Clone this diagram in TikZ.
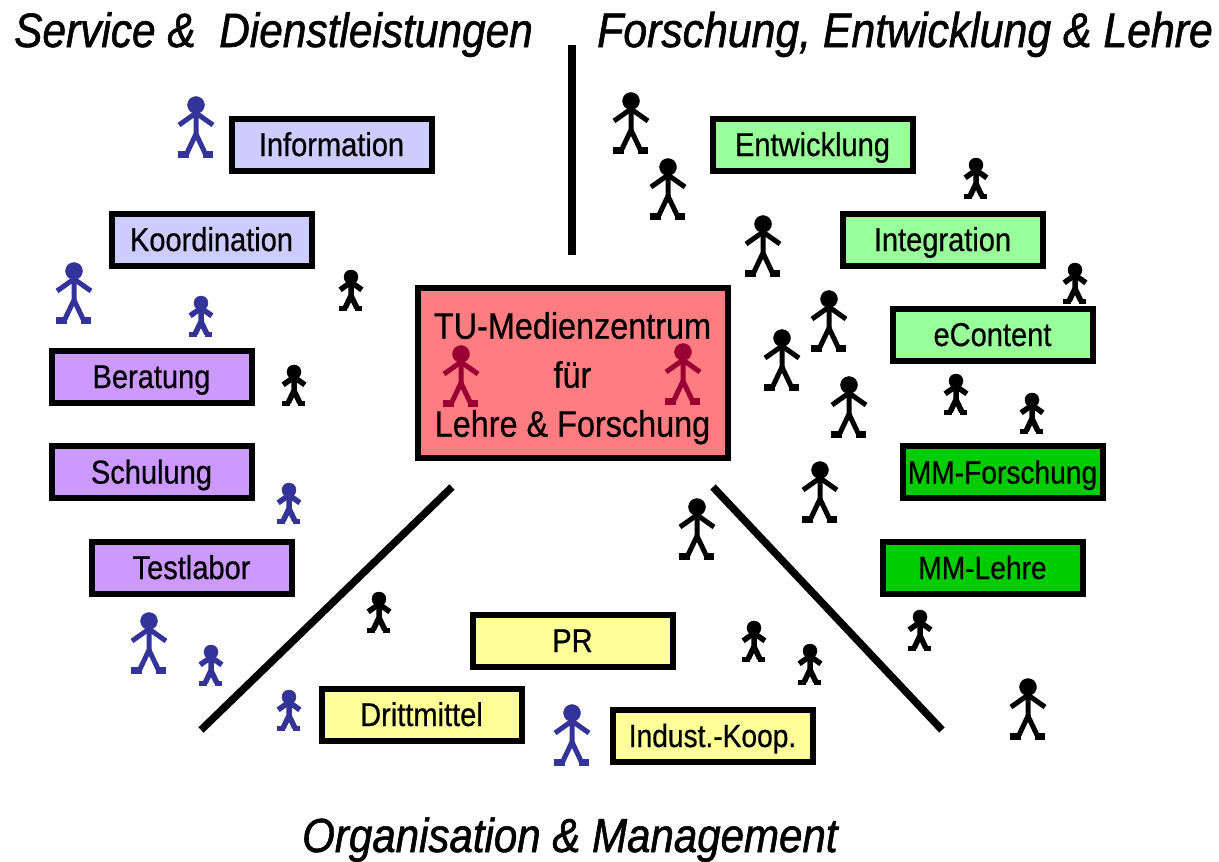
\documentclass[tikz,border=0pt]{standalone}
\usepackage{fontspec}
\setmainfont[FakeStretch=0.88,FakeBold=0.6]{Liberation Sans}
\newfontfamily\headfont[FakeStretch=0.88,FakeBold=1.2]{Liberation Sans}
\definecolor{lblue}{HTML}{CCCCFF}
\definecolor{lpurple}{HTML}{CC99FF}
\definecolor{lgreen}{HTML}{99FF99}
\definecolor{dgreen}{HTML}{00CC00}
\definecolor{lyellow}{HTML}{FFFF99}
\definecolor{lred}{HTML}{FF7C80}
\definecolor{pblue}{HTML}{333399}
\definecolor{pred}{HTML}{990033}
\tikzset{
 x=1pt,y=-1pt,
 taskbox/.style={draw=black,line width=6pt,minimum width=200pt,minimum height=52pt,inner sep=0pt,text height=23pt,text depth=0pt,font=\fontsize{33}{37}\selectfont,text=black},
 centerbox/.style={draw=black,line width=6pt,fill=lred,minimum width=310pt,minimum height=170pt,inner sep=0pt,align=center,font=\fontsize{36.8}{49}\selectfont},
 heading/.style={anchor=base west,inner sep=0pt,font=\headfont\fontsize{48.2}{52}\selectfont\itshape},
 divider/.style={line width=7.5pt,draw=black},
 personlw/.initial=5pt,
 personhead/.initial=8.5,
 person/.pic={
  \fill[pic actions] (0,0) circle (\pgfkeysvalueof{/tikz/personhead});
  \draw[pic actions,line width=\pgfkeysvalueof{/tikz/personlw},fill=none] (-17,20)--(0,8)--(17,20);
  \draw[pic actions,line width=\pgfkeysvalueof{/tikz/personlw},fill=none] (0,8)--(0,29)--(-9,48);
  \draw[pic actions,line width=\pgfkeysvalueof{/tikz/personlw},fill=none] (0,29)--(9,48);
  \fill[pic actions] (-18,46) rectangle (-8,52);
  \fill[pic actions] (7,46) rectangle (16,52);
 },
 big/.style={scale=1,personlw=5pt,personhead=8.5},
 small/.style={scale=0.64,personlw=5.5pt,personhead=11},
}
\newcommand{\persons}[3]{\foreach \px/\py in {#3}{\pic[#1,draw=#2,fill=#2] at (\px,\py) {person};}}
\begin{document}
\begin{tikzpicture}
\useasboundingbox (0,0) rectangle (1219,862);
\node[heading] (h1) at (14,47) {Service \&\ \ Dienstleistungen};
\node[heading,font=\headfont\fontsize{48.6}{52}\selectfont\itshape] (h2) at (597,47) {Forschung, Entwicklung \& Lehre};
\node[heading,font=\headfont\fontsize{47.8}{52}\selectfont\itshape] (h3) at (302,852) {Organisation \& Management};
\coordinate (v1) at (572,45); \coordinate (v2) at (572,255);
\coordinate (l1) at (452,487); \coordinate (l2) at (201,730);
\coordinate (r1) at (713,487); \coordinate (r2) at (942,730);
\draw[divider] (v1)--(v2);
\draw[divider] (l1)--(l2);
\draw[divider] (r1)--(r2);
\node[centerbox] (center) at (572.5,372.5) {\rule{0pt}{38pt}TU-Medienzentrum\\für\\Lehre \& Forschung};
\node[taskbox,fill=lblue] (info) at (331.5,144.5) {Information};
\node[taskbox,fill=lblue] (koord) at (211.5,239.5) {Koordination};
\node[taskbox,fill=lpurple] (ber) at (151.5,376.5) {Beratung};
\node[taskbox,fill=lpurple] (sch) at (151.5,472) {Schulung};
\node[taskbox,fill=lpurple] (test) at (191.5,567.5) {Testlabor};
\node[taskbox,fill=lgreen] (ent) at (812.5,144.5) {Entwicklung};
\node[taskbox,fill=lgreen] (int) at (942.5,239.5) {Integration};
\node[taskbox,fill=lgreen] (econ) at (992.5,334.5) {eContent};
\node[taskbox,fill=dgreen,font=\fontsize{32}{37}\selectfont] (mmf) at (1002.5,472) {MM-Forschung};
\node[taskbox,fill=dgreen,font=\fontsize{32}{37}\selectfont] (mml) at (982.5,567.5) {MM-Lehre};
\node[taskbox,fill=lyellow] (pr) at (572.5,640.5) {PR};
\node[taskbox,fill=lyellow] (dritt) at (421.5,714.5) {Drittmittel};
\node[taskbox,fill=lyellow,font=\fontsize{32}{37}\selectfont] (indu) at (712.5,735.5) {Indust.-Koop.};
\persons{big}{pblue}{196/105,74/271,149/621,572/713}
\persons{small}{pblue}{201/303,289/490,211/652,289/697}
\persons{big}{black}{631/101,668/167,763/224,829/299,782/338,849/385,820/470,697/507,1028/687}
\persons{small}{black}{351/277,294/372,379/599,976/165,1075/270,956/381,1032/400,920/617,754/628,810/651}
\persons{big}{pred}{461/354,683/352}
\end{tikzpicture}
\end{document}
